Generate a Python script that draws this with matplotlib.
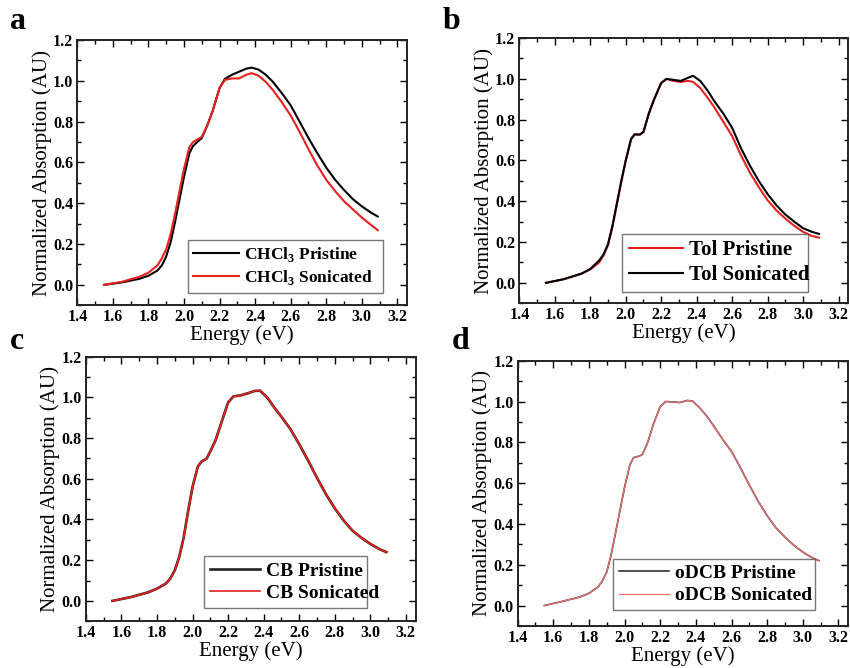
import numpy as np
import matplotlib
matplotlib.use('Agg')
import matplotlib.pyplot as plt
from matplotlib.ticker import MultipleLocator

plt.rcParams['font.family'] = 'Liberation Serif'
plt.rcParams['mathtext.fontset'] = 'custom'
plt.rcParams['mathtext.rm'] = 'Liberation Serif'
plt.rcParams['mathtext.bf'] = 'Liberation Serif:bold'

# energy grid (eV)
energy = [1.55, 1.65, 1.75, 1.80, 1.85, 1.875, 1.90, 1.925, 1.95, 1.975, 2.00, 2.03, 2.05,
          2.08, 2.10, 2.13, 2.16, 2.20, 2.23, 2.27, 2.31, 2.35, 2.38, 2.42, 2.46, 2.50,
          2.55, 2.60, 2.65, 2.70, 2.75, 2.80, 2.85, 2.90, 2.95, 3.00, 3.05, 3.09]

# panel a: chloroform
chcl3_pristine = [0.0, 0.012, 0.03, 0.045, 0.07, 0.095, 0.14, 0.21, 0.31, 0.42, 0.53, 0.645, 0.68,
                  0.705, 0.72, 0.78, 0.85, 0.965, 1.01, 1.03, 1.045, 1.06, 1.065, 1.055, 1.03, 0.995,
                  0.94, 0.88, 0.80, 0.72, 0.645, 0.575, 0.515, 0.465, 0.42, 0.385, 0.355, 0.335]
chcl3_sonicated = [0.0, 0.015, 0.04, 0.06, 0.095, 0.13, 0.175, 0.25, 0.35, 0.46, 0.57, 0.675, 0.70,
                   0.715, 0.725, 0.78, 0.85, 0.965, 1.005, 1.012, 1.012, 1.03, 1.038, 1.025, 0.995, 0.955,
                   0.895, 0.83, 0.75, 0.665, 0.585, 0.515, 0.46, 0.41, 0.37, 0.33, 0.295, 0.268]

# panel b: toluene
tol_pristine = [0.0, 0.018, 0.045, 0.066, 0.10, 0.135, 0.185, 0.275, 0.385, 0.495, 0.60, 0.705, 0.728,
                0.727, 0.74, 0.83, 0.90, 0.98, 1.0, 0.99, 0.985, 0.99, 0.985, 0.955, 0.91, 0.86,
                0.79, 0.72, 0.625, 0.54, 0.47, 0.405, 0.355, 0.315, 0.28, 0.25, 0.23, 0.222]
tol_sonicated = [0.0, 0.018, 0.045, 0.068, 0.11, 0.14, 0.19, 0.28, 0.39, 0.50, 0.60, 0.705, 0.728,
                 0.727, 0.74, 0.83, 0.90, 0.98, 1.0, 0.995, 0.99, 1.005, 1.015, 0.99, 0.945, 0.89,
                 0.83, 0.76, 0.66, 0.575, 0.50, 0.435, 0.38, 0.335, 0.30, 0.268, 0.25, 0.24]

# panel c: chlorobenzene
cb_pristine = [0.0, 0.018, 0.042, 0.06, 0.085, 0.11, 0.15, 0.215, 0.31, 0.44, 0.56, 0.66, 0.684,
               0.70, 0.735, 0.79, 0.87, 0.975, 1.005, 1.01, 1.02, 1.032, 1.033, 1.0, 0.95, 0.905,
               0.845, 0.77, 0.69, 0.605, 0.525, 0.455, 0.395, 0.345, 0.31, 0.28, 0.255, 0.24]
cb_sonicated = [0.0, 0.018, 0.042, 0.06, 0.085, 0.11, 0.15, 0.215, 0.31, 0.44, 0.56, 0.66, 0.684,
                0.70, 0.735, 0.79, 0.87, 0.975, 1.005, 1.01, 1.02, 1.032, 1.033, 1.0, 0.95, 0.905,
                0.845, 0.77, 0.69, 0.605, 0.525, 0.455, 0.395, 0.345, 0.31, 0.28, 0.255, 0.24]

# panel d: o-dichlorobenzene
odcb_pristine = [0.0, 0.02, 0.042, 0.06, 0.09, 0.12, 0.165, 0.25, 0.36, 0.47, 0.58, 0.69, 0.725,
                 0.732, 0.74, 0.80, 0.885, 0.975, 1.0, 0.998, 0.995, 1.005, 1.003, 0.97, 0.93, 0.88,
                 0.815, 0.755, 0.675, 0.59, 0.51, 0.44, 0.38, 0.335, 0.295, 0.262, 0.235, 0.22]
odcb_sonicated = odcb_pristine

panel_letters = ['a', 'b', 'c', 'd']


def style_axes(ax):
    ax.set_xlim(1.4, 3.255)
    ax.set_ylim(-0.1, 1.2)
    ax.xaxis.set_major_locator(MultipleLocator(0.2))
    ax.xaxis.set_minor_locator(MultipleLocator(0.1))
    ax.yaxis.set_major_locator(MultipleLocator(0.2))
    ax.yaxis.set_minor_locator(MultipleLocator(0.1))
    ax.tick_params(which='both', direction='in', top=True, right=True, width=1.0)
    ax.tick_params(which='major', length=5, labelsize=11.5, pad=3)
    ax.tick_params(which='minor', length=3)
    for lab in ax.get_xticklabels() + ax.get_yticklabels():
        lab.set_fontweight('bold')
    for s in ax.spines.values():
        s.set_linewidth(1.4)
        s.set_color('#222222')
    ax.xaxis.set_major_formatter(matplotlib.ticker.FormatStrFormatter('%.1f'))
    ax.yaxis.set_major_formatter(matplotlib.ticker.FormatStrFormatter('%.1f'))
    ax.set_xlabel('Energy (eV)', fontsize=15, labelpad=0)
    ax.set_ylabel('Normalized Absorption (AU)', fontsize=15, labelpad=1)


fig = plt.figure(figsize=(8.5, 6.68), dpi=100)

positions = [
    [0.091, 0.543, 0.388, 0.397],
    [0.611, 0.546, 0.387, 0.397],
    [0.101, 0.070, 0.388, 0.396],
    [0.609, 0.063, 0.389, 0.397],
]
axes = [fig.add_axes(p) for p in positions]

# panel a
ax = axes[0]
ax.plot(energy, chcl3_pristine, color='black', lw=1.5, label=r'CHCl$_{\mathbf{3}}$ Pristine')
ax.plot(energy, chcl3_sonicated, color='#e8201e', lw=1.5, label=r'CHCl$_{\mathbf{3}}$ Sonicated')
leg_a = (0.336, 0.03, 0.591, 0.234)

# panel b
ax = axes[1]
ax.plot(energy, tol_pristine, color='#e8201e', lw=1.5, label='Tol Pristine')
ax.plot(energy, tol_sonicated, color='black', lw=1.5, label='Tol Sonicated')
leg_b = (0.313, 0.049, 0.565, 0.208)

# panel c
ax = axes[2]
ax.plot(energy, cb_pristine, color='#222222', lw=1.9, label='CB Pristine')
ax.plot(energy, cb_sonicated, color='#e8201e', lw=1.2, label='CB Sonicated')
leg_c = (0.358, 0.053, 0.494, 0.189)

# panel d
ax = axes[3]
ax.plot(energy, odcb_pristine, color='#333333', lw=1.2, label='oDCB Pristine')
ax.plot(energy, odcb_sonicated, color='#f07070', lw=0.9, label='oDCB Sonicated')
leg_d = (0.288, 0.06, 0.612, 0.193)

leg_boxes = [leg_a, leg_b, leg_c, leg_d]
leg_sizes = [12.5, 15, 14, 14]

for ax, box, fs in zip(axes, leg_boxes, leg_sizes):
    style_axes(ax)
    leg = ax.legend(loc='center', bbox_to_anchor=box, mode='expand',
                    prop={'weight': 'bold', 'size': fs},
                    frameon=True, fancybox=False, borderaxespad=0,
                    handlelength=2.6, handletextpad=0.3, labelspacing=0.25,
                    borderpad=0.3)
    leg.get_frame().set_edgecolor('#555555')
    leg.get_frame().set_linewidth(1.0)

letter_pos = [(0.012, 0.99), (0.521, 0.99), (0.012, 0.51), (0.532, 0.51)]
for (x, y), letter in zip(letter_pos, panel_letters):
    fig.text(x, y, letter, fontsize=23, fontweight='bold', va='top', ha='left')

fig.savefig('out.png', dpi=100)
